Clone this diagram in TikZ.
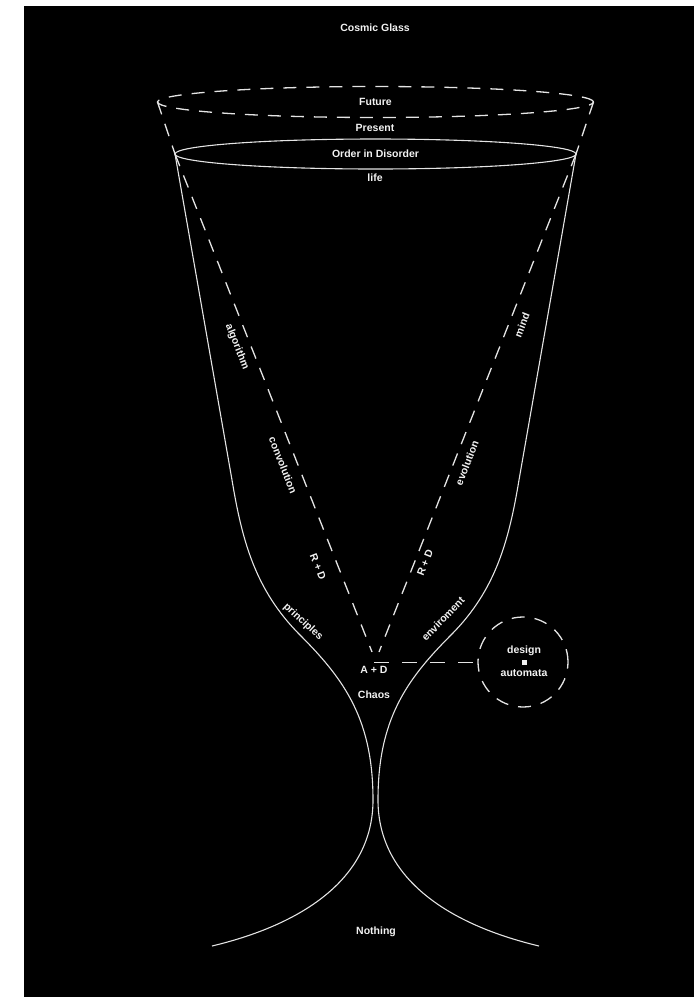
\documentclass[tikz,border=0pt]{standalone}
\usepackage{fontspec}
\setmainfont{Liberation Sans}
\usetikzlibrary{shapes.geometric}
\definecolor{ln}{HTML}{E4E4E4}
\definecolor{tx}{HTML}{F2F2F2}
\begin{document}
\begin{tikzpicture}[x=1pt,y=-1pt,
  lbl/.style={text=tx, font=\bfseries\fontsize{10.5}{12}\selectfont, inner sep=1pt},
  solidln/.style={draw=ln, line width=1.1pt},
  dashln/.style={draw=ln, line width=1.3pt, dash pattern=on 13pt off 10pt},
  ringshape/.style={dashln, outer sep=0pt, inner sep=0pt},
]
\useasboundingbox (0,0) rectangle (694,997);
\fill[white] (0,0) rectangle (694,997);
\fill[black] (24,6) rectangle (694,997);

% title and rims
\node[lbl] (title) at (375,28) {Cosmic Glass};
\node[ellipse, ringshape, lbl, minimum width=436pt, minimum height=31pt] (future) at (375.5,102) {Future};
\node[lbl] (present) at (375,128) {Present};
\node[ellipse, solidln, lbl, outer sep=0pt, minimum width=401pt, minimum height=30pt] (order) at (375.5,154) {Order in Disorder};
\node[lbl] (life) at (375,178) {life};

% dashed rim sides
\draw[dashln] (future.west) -- (order.west);
\draw[dashln] (future.east) -- (order.east);

% glass outline
\draw[solidln] (order.west) -- (232,480) .. controls (242,540) and (255,590) .. (300,635)
  .. controls (345,680) and (373,720) .. (373,800)
  .. controls (373,880) and (300,925) .. (212,946);
\draw[solidln] (order.east) -- (519,480) .. controls (509,540) and (496,590) .. (451,635)
  .. controls (406,680) and (378,720) .. (378,800)
  .. controls (378,880) and (451,925) .. (539,946);

% inner V
\coordinate (vl) at (372,652);
\coordinate (vr) at (379,652);
\draw[dashln] (order.west) -- (vl);
\draw[dashln] (order.east) -- (vr);

% labels along V
\node[lbl, rotate=-68.4] (alg) at (237,347) {algorithm};
\node[lbl, rotate=-68.4] (conv) at (283,465) {convolution};
\node[lbl, rotate=-68.4] (rdl) at (318,567) {R + D};
\node[lbl, rotate=68.4] (mind) at (522,325) {mind};
\node[lbl, rotate=68.4] (evo) at (467,463) {evolution};
\node[lbl, rotate=68.4] (rdr) at (425,563) {R + D};

% labels along glass
\node[lbl, rotate=-43] (pri) at (303,622) {principles};
\node[lbl, rotate=46] (env) at (443,619) {enviroment};

% center
\node[lbl] (ad) at (374,670) {A + D};
\node[lbl] (chaos) at (374,695) {Chaos};

% design circle
\node[circle, ringshape, minimum size=90pt] (circ) at (523,662) {};
\coordinate (adtop) at ([yshift=3pt]ad.north);
\draw[draw=ln, line width=1.3pt, dash pattern=on 15pt off 13pt] (adtop) -- (adtop -| circ.west);
\node[lbl] (design) at (524,651) {design};
\node[fill=tx, minimum size=5pt, inner sep=0pt] (sq) at (524,662) {};
\node[lbl] (automata) at (524,673) {automata};

\node[lbl] (nothing) at (376,932) {Nothing};
\end{tikzpicture}
\end{document}
